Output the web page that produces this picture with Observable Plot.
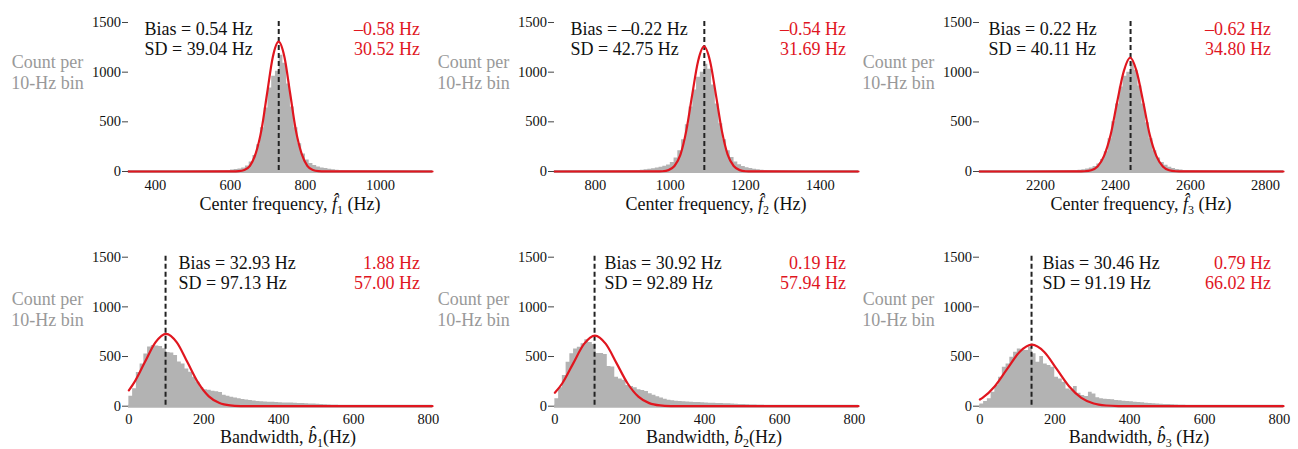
<!DOCTYPE html>
<html><head><meta charset="utf-8">
<script src="https://cdn.jsdelivr.net/npm/d3@7"></script>
<script src="https://cdn.jsdelivr.net/npm/@observablehq/plot@0.6"></script>
<style>
body{margin:0;background:#fff;}
#chart{position:relative;width:1298px;height:449px;overflow:hidden;font-family:"Liberation Serif","Times New Roman",serif;}
#chart svg{position:absolute;overflow:visible;background:transparent;}
.xt{position:absolute;font-size:18px;line-height:18px;white-space:nowrap;transform:translateX(-50%);color:#111;}
.xt i{font-style:italic;}
.xt sub{font-size:12px;line-height:0;vertical-align:-4px;font-style:normal;}
</style></head><body><div id="chart"></div>
<script>
// ---------- data ----------
const binWidth = 10;
const f1Start = 600;
const f1Counts = [15,20,25,35,55,95,160,270,440,640,840,960,1010,1170,1090,880,650,440,280,175,115,80,60,45,36,29,23,18,13,9,6,4];
const f2Start = 900;
const f2Counts = [5,8,12,17,22,28,34,42,52,65,90,135,210,320,470,650,820,950,1000,1080,1030,870,680,480,320,210,140,95,68,50,38,30,23,17,12,8,5,3];
const f3Start = 2280;
const f3Counts = [6,9,13,18,25,35,50,75,120,200,330,500,680,850,960,1000,1100,1020,860,680,490,330,210,135,90,62,44,31,21,14,9,5];
const b1Start = 0;
const b1Counts = [100,175,340,425,525,595,610,605,600,578,540,535,510,445,425,375,342,292,242,185,165,160,150,145,138,110,100,90,82,75,68,62,57,52,48,45,43,41,39,37,35,33,32,31,30,28,26,25,23,21,20,18,15,12,10,9,8,7,6,5,4,3,3,2,2];
const b2Start = 0;
const b2Counts = [74,185,309,443,527,577,594,628,668,640,620,530,530,520,400,395,292,275,260,208,198,185,165,158,148,125,110,95,82,70,60,55,50,47,45,42,40,38,36,34,32,30,29,28,27,25,24,22,20,18,16,14,12,11,10,9,8,7,6,5,4,3,3,2,2];
const b3Start = 0;
const b3Counts = [23,47,74,141,208,292,393,426,493,544,577,567,560,594,527,443,500,426,409,393,292,275,242,174,164,198,131,107,97,141,124,84,74,70,67,64,57,54,50,47,44,40,37,34,30,27,25,22,20,18,16,14,12,10,9,8,7,6,5,4,3];

const f1CurveX = [328,606,622,637,652,667,683,698,713,728.5,744,759,774,790,805,820,835,851,1139];
const f1CurveY = [0,0.4,2.9,14.5,57,177,424,793,1153,1307,1153,793,424,177,57,14.5,2.9,0.4,0];
const f2CurveX = [691,963,979,995,1011,1027,1042.5,1058,1074,1090,1106,1122,1137.5,1153,1169,1185,1201,1217,1502];
const f2CurveY = [0,0.4,2.8,14,55,170,409,764,1111,1259,1111,764,409,170,55,14,2.8,0.4,0];
const f3CurveX = [2037,2300,2317,2335,2352,2369,2387,2404,2422,2439,2456,2474,2491,2509,2526,2543,2561,2578,2848];
const f3CurveY = [0,0.3,2.5,12.7,50,155,372,695,1011,1146,1011,695,372,155,50,12.7,2.5,0.3,0];
const b1CurveX = [0,14,42.5,71,99.5,128,156.5,185,213.5,242,270.5,299,327.5,811];
const b1CurveY = [159,237,442,643,729,643,442,237,99,32,8.1,1.6,0.2,0];
const b2CurveX = [0,20,49,78,107,136,165,194,223,252,281,310,339,811];
const b2CurveY = [135,231,431,627,711,627,431,231,96,31,7.9,1.6,0.2,0];
const b3CurveX = [0,7,40,73,106,139,172,205,238,271,304,337,370,403,811];
const b3CurveY = [67,84,201,375,546,619,546,375,201,84,27,6.9,1.4,0.2,0];

const truthValues = [728.8,1090.7,2440,98,106,138];
const biasText = ["0.54","\u20130.22","0.22","32.93","30.92","30.46"];
const sdText = ["39.04","42.75","40.11","97.13","92.89","91.19"];
const fitBiasText = ["\u20130.58","\u20130.54","\u20130.62","1.88","0.19","0.79"];
const fitSdText = ["30.52","31.69","34.80","57.00","57.94","66.02"];
const xDomains = [[328,1139],[691,1502],[2037,2848],[-1,811],[-1,811],[-1,811]];
const xTicks = [[400,600,800,1000],[800,1000,1200,1400],[2200,2400,2600,2800],[0,200,400,600,800],[0,200,400,600,800],[0,200,400,600,800]];
const yTicks = [0,500,1000,1500];
const titlePrefix = ["Center frequency, ","Center frequency, ","Center frequency, ","Bandwidth, ","Bandwidth, ","Bandwidth, "];
const titleSymbol = ["f","f","f","b","b","b"];
const titleSub = ["1","2","3","1","2","3"];
const titleSuffix = [" (Hz)"," (Hz)"," (Hz)","(Hz)","(Hz)"," (Hz)"];
const yLabel = "Count per\n10-Hz bin";

// ---------- layout ----------
const starts = [f1Start,f2Start,f3Start,b1Start,b2Start,b3Start];
const counts = [f1Counts,f2Counts,f3Counts,b1Counts,b2Counts,b3Counts];
const curvesX = [f1CurveX,f2CurveX,f3CurveX,b1CurveX,b2CurveX,b3CurveX];
const curvesY = [f1CurveY,f2CurveY,f3CurveY,b1CurveY,b2CurveY,b3CurveY];
const plotLefts = [128,554,979];
const biasDx = [16,16,9,50,50,63];
const RED = "#e0161f", GRAY = "#b3b3b3", INK = "#111";
const FONT = '"Liberation Serif","Times New Roman",serif';
const chart = document.getElementById("chart");

for (let i = 0; i < 6; i++) {
  const row = i < 3 ? 0 : 1, col = i % 3;
  // histogram as one step outline: each bin's left edge, then the last bin's right edge
  const steps = counts[i].map((n, k) => ({x: starts[i] + k*binWidth, n}));
  steps.push({x: starts[i] + counts[i].length*binWidth, n: counts[i][counts[i].length - 1]});
  const curve = curvesX[i].map((x, k) => ({x, y: curvesY[i][k]}));
  const H = row === 0 ? 225 : 224;
  const mt = row === 0 ? 21 : 30.7;
  const svg = Plot.plot({
    width: 444, height: H,
    marginLeft: 128, marginRight: 12, marginTop: mt, marginBottom: H - mt - 150,
    style: {fontFamily: FONT, background: "transparent", overflow: "visible", color: INK},
    x: {domain: xDomains[i]},
    y: {domain: [0, 1510]},
    marks: [
      Plot.ruleY([0], {stroke: GRAY, strokeWidth: 3}),
      Plot.areaY(steps, {x: "x", y: "n", fill: GRAY, curve: "step-after"}),
      Plot.ruleX([truthValues[i]], {stroke: "#222", strokeWidth: 2, strokeDasharray: "5,3"}),
      Plot.line(curve, {x: "x", y: "y", stroke: RED, strokeWidth: 2.2, curve: "monotone-x"}),
      Plot.axisY({ticks: yTicks, tickSize: 6, tickPadding: 1.5, tickFormat: d => String(d), fontSize: 14.5, fontFamily: FONT, label: null, stroke: "#444"}),
      Plot.axisX({ticks: xTicks[i], tickSize: 0, tickPadding: 8, tickFormat: d => String(d), fontSize: 14.5, fontFamily: FONT, label: null}),
      Plot.text([`Bias = ${biasText[i]} Hz\nSD = ${sdText[i]} Hz`], {text: d => d, frameAnchor: "top-left", dx: biasDx[i], dy: -1, textAnchor: "start", lineAnchor: "top", lineHeight: 1.11, fontSize: 18, fontFamily: FONT, fill: INK}),
      Plot.text([`${fitBiasText[i]} Hz\n${fitSdText[i]} Hz`], {text: d => d, frameAnchor: "top-right", dx: -12.5, dy: -1, textAnchor: "end", lineAnchor: "top", lineHeight: 1.11, fontSize: 18, fontFamily: FONT, fill: RED}),
      Plot.text([yLabel], {text: d => d, frameAnchor: "left", dx: -81, dy: row === 0 ? -25 : -22, textAnchor: "middle", lineAnchor: "middle", lineHeight: 1.17, fontSize: 18, fontFamily: FONT, fill: "#999"})
    ]
  });
  svg.style.left = (plotLefts[col] - 128) + "px";
  svg.style.top = (row === 0 ? 0 : 225) + "px";
  chart.appendChild(svg);

  const t = document.createElement("div");
  t.className = "xt";
  t.style.left = (plotLefts[col] + 152 + (row === 0 ? 10 : 8)) + "px";
  t.style.top = (row === 0 ? 195 : 428) + "px";
  t.innerHTML = `${titlePrefix[i]}<i>${titleSymbol[i]}\u0302</i><sub>${titleSub[i]}</sub>${titleSuffix[i]}`;
  chart.appendChild(t);
}
</script></body></html>
